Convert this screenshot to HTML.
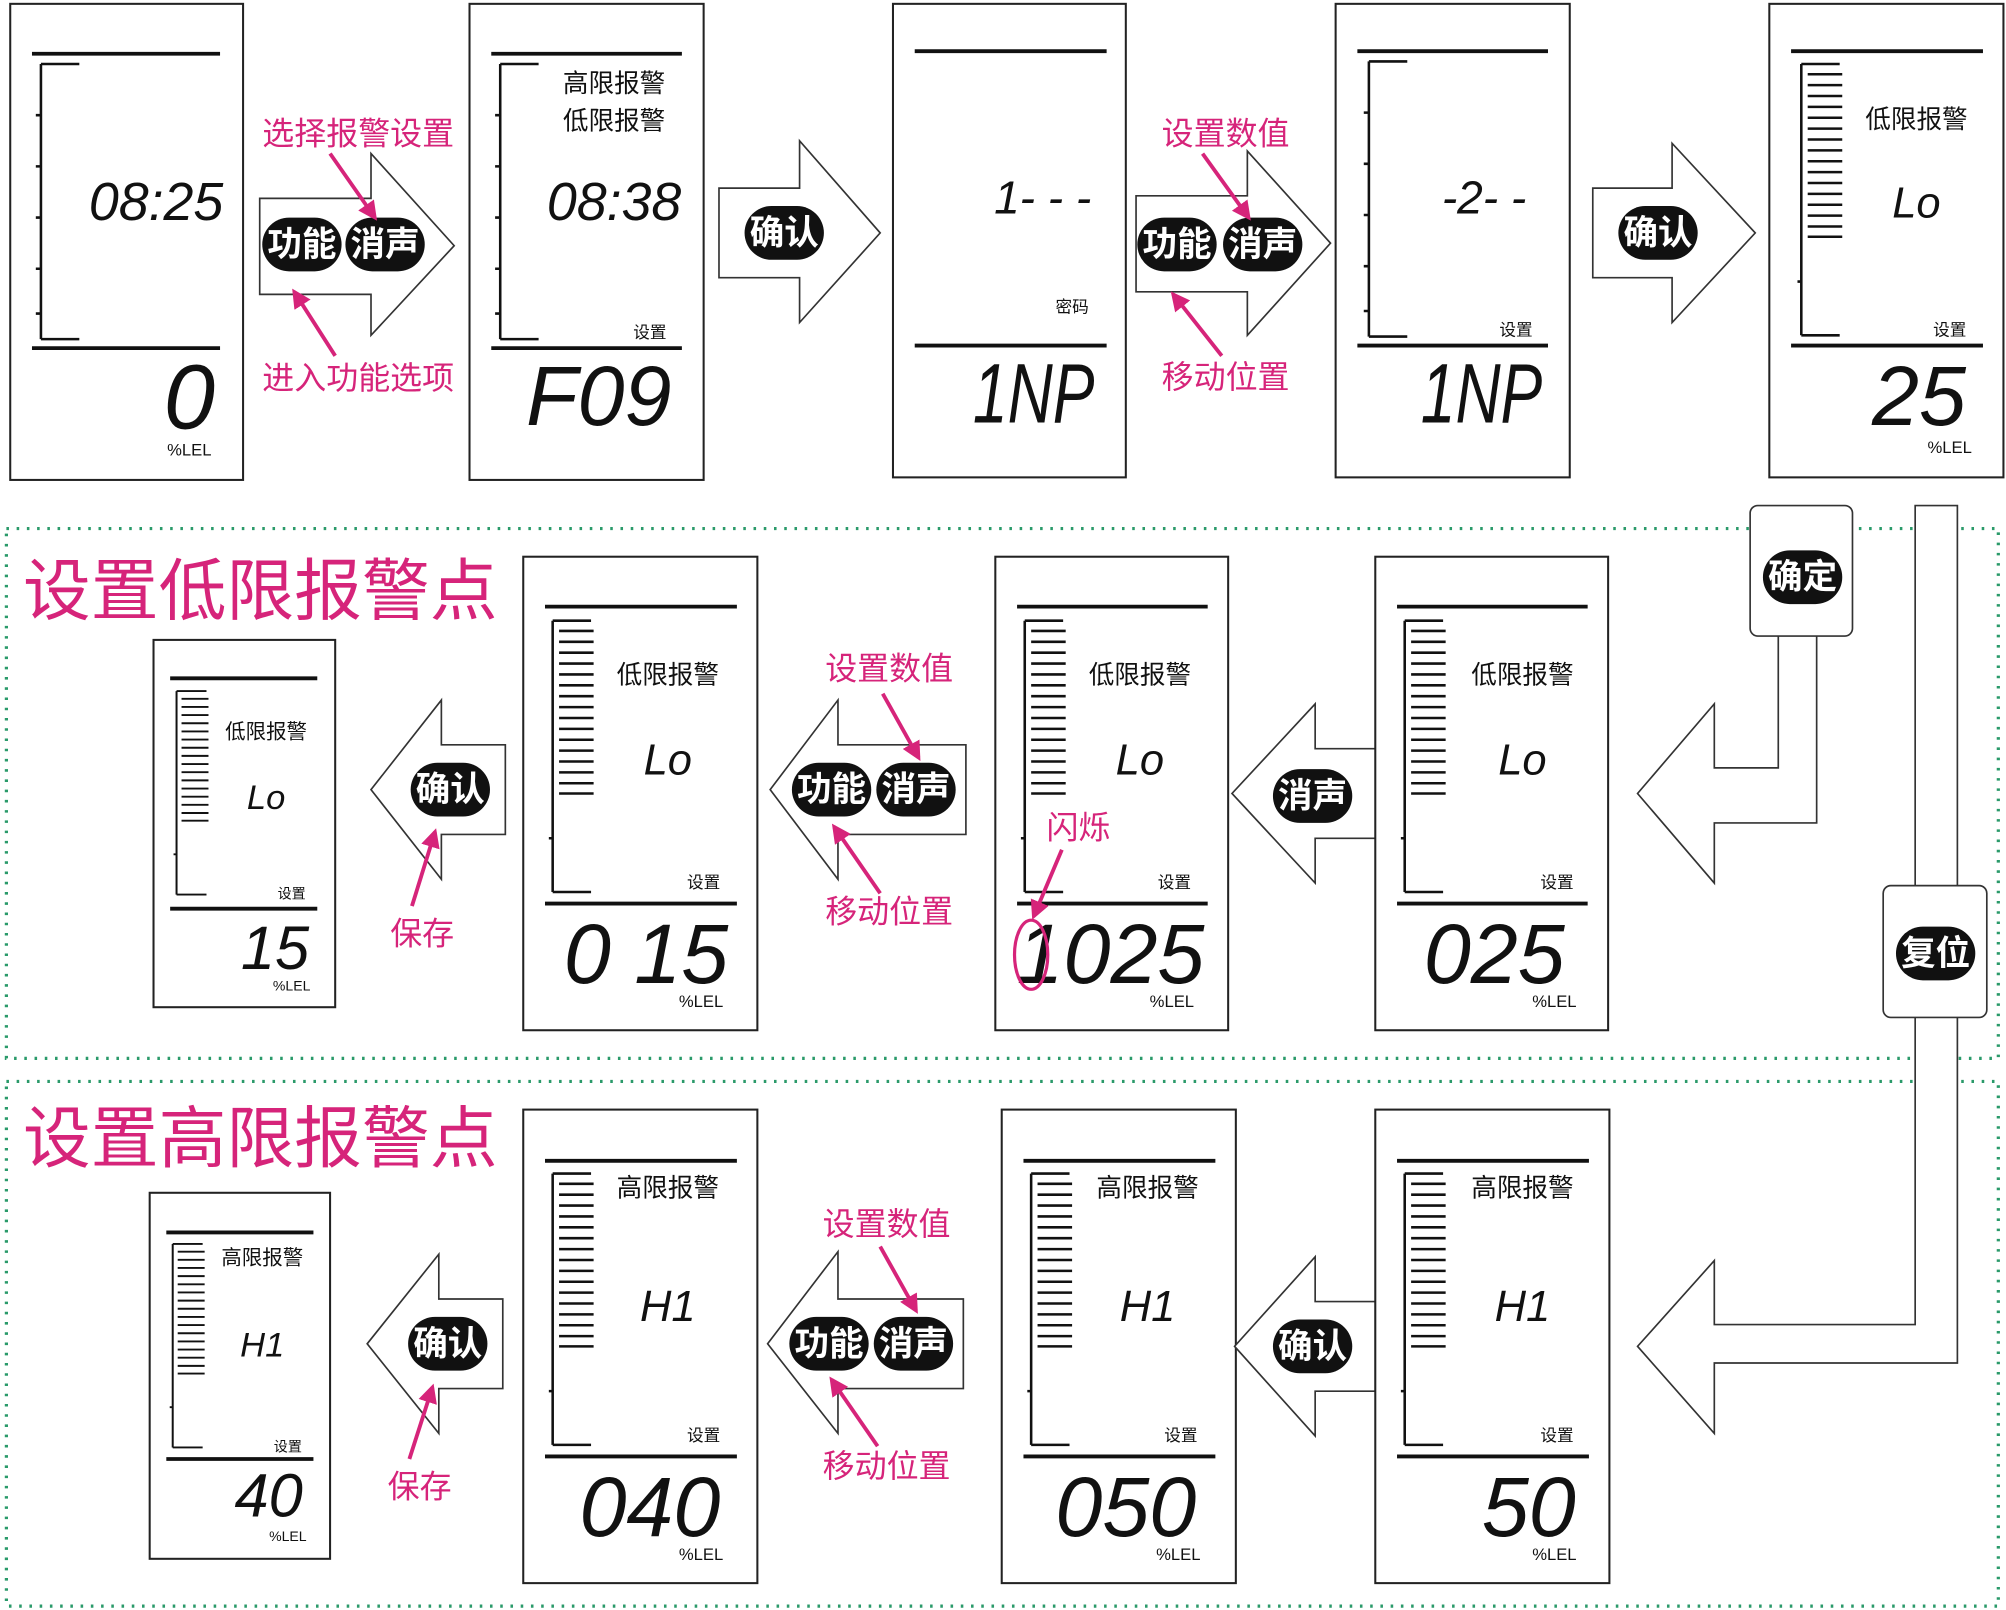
<!DOCTYPE html>
<html><head><meta charset="utf-8"><style>
html,body{margin:0;padding:0;background:#fff}
svg{display:block}
text{font-family:"Liberation Sans","Noto Sans CJK SC",sans-serif}
.cn{font-family:"Liberation Sans","Noto Sans CJK SC",sans-serif}
.pk{fill:#d6247a}
.lcd{font-family:"Liberation Sans",sans-serif;font-style:italic;fill:#111;text-anchor:middle}
.bx{fill:#fff;stroke:#222;stroke-width:1.6}
.ln{stroke:#111;stroke-width:3}
.ar{fill:#fff;stroke:#333;stroke-width:1.3}
.pill{fill:#111}
.pt{fill:#fff;font-size:27px;font-weight:bold;text-anchor:middle}
.lab{font-size:20px;fill:#111;text-anchor:middle}
.sm{font-size:13px;fill:#111;text-anchor:middle}
</style></head><body>
<svg width="2006" height="1610" viewBox="0 0 1568 1258" preserveAspectRatio="none" xmlns="http://www.w3.org/2000/svg">
<defs>
<marker id="mk" viewBox="0 0 10 10" refX="8" refY="5" markerWidth="5" markerHeight="5" orient="auto"><path d="M0,0 L10,5 L0,10 z" fill="#d6247a"/></marker>
<g id="scale">
<path d="M0,0 V212 M0,0 H30 M0,212 H30 M-3,170 H0" stroke="#111" stroke-width="2" fill="none"/>
<path d="M5,8H32M5,16.5H32M5,25H32M5,33.5H32M5,42H32M5,50.5H32M5,59H32M5,67.5H32M5,76H32M5,84.5H32M5,93H32M5,101.5H32M5,110H32M5,118.5H32M5,127H32M5,135H32" stroke="#111" stroke-width="2"/>
</g>
<g id="brk">
<path d="M0,0 V215 M0,0 H30 M0,215 H30 M-4,40H0M-4,80H0M-4,120H0M-4,160H0M-4,195H0" stroke="#111" stroke-width="2" fill="none"/>
</g>
</defs>

<!-- dotted frames -->
<rect x="5" y="413" width="1557" height="414" fill="none" stroke="#2a9a6a" stroke-width="2.5" stroke-dasharray="2,6"/>
<rect x="5" y="845" width="1557" height="410" fill="none" stroke="#2a9a6a" stroke-width="2.5" stroke-dasharray="2,6"/>

<!-- Row 1 -->
<rect class="bx" x="8" y="3" width="182" height="372"/>
<line class="ln" x1="25" y1="42" x2="172" y2="42"/>
<use href="#brk" x="32" y="50"/>
<text class="lcd" x="122" y="172" font-size="42">08:25</text>
<line class="ln" x1="25" y1="272" x2="172" y2="272"/>
<text class="lcd" x="148" y="335" font-size="72">0</text>
<text class="sm" x="148" y="356">%LEL</text>

<path class="ar" d="M203,155 H290 V120 L355,192 L290,262 V230 H203 Z"/>
<rect class="pill" x="205" y="170" width="62" height="42" rx="21"/>
<text class="pt cn" x="236" y="200">功能</text>
<rect class="pill" x="270" y="170" width="62" height="42" rx="21"/>
<text class="pt cn" x="301" y="200">消声</text>
<text class="pk cn" x="280" y="113" font-size="25" text-anchor="middle">选择报警设置</text>
<text class="pk cn" x="280" y="304" font-size="25" text-anchor="middle">进入功能选项</text>
<line x1="258" y1="120" x2="293" y2="170" stroke="#d6247a" stroke-width="3" marker-end="url(#mk)"/>
<line x1="262" y1="278" x2="230" y2="228" stroke="#d6247a" stroke-width="3" marker-end="url(#mk)"/>

<rect class="bx" x="367" y="3" width="183" height="372"/>
<line class="ln" x1="384" y1="42" x2="533" y2="42"/>
<use href="#brk" x="391" y="50"/>
<text class="lab cn" x="480" y="72">高限报警</text>
<text class="lab cn" x="480" y="101">低限报警</text>
<text class="lcd" x="480" y="172" font-size="42">08:38</text>
<text class="sm cn" x="508" y="264">设置</text>
<line class="ln" x1="384" y1="272" x2="533" y2="272"/>
<text class="lcd" x="468" y="332" font-size="66">F09</text>

<path class="ar" d="M562,147 H625 V110 L688,182 L625,252 V217 H562 Z"/>
<rect class="pill" x="582" y="161" width="62" height="42" rx="21"/>
<text class="pt cn" x="613" y="191">确认</text>

<rect class="bx" x="698" y="3" width="182" height="370"/>
<line class="ln" x1="715" y1="40" x2="865" y2="40"/>
<text class="lcd" x="815" y="167" font-size="36">1- - -</text>
<text class="sm cn" x="838" y="244">密码</text>
<line class="ln" x1="715" y1="270" x2="865" y2="270"/>
<text class="lcd" x="808" y="330" font-size="66" textLength="95" lengthAdjust="spacingAndGlyphs">1NP</text>

<path class="ar" d="M888,153 H975 V118 L1040,190 L975,262 V228 H888 Z"/>
<rect class="pill" x="889" y="170" width="62" height="42" rx="21"/>
<text class="pt cn" x="920" y="200">功能</text>
<rect class="pill" x="956" y="170" width="62" height="42" rx="21"/>
<text class="pt cn" x="987" y="200">消声</text>
<text class="pk cn" x="958" y="113" font-size="25" text-anchor="middle">设置数值</text>
<text class="pk cn" x="958" y="303" font-size="25" text-anchor="middle">移动位置</text>
<line x1="940" y1="120" x2="976" y2="170" stroke="#d6247a" stroke-width="3" marker-end="url(#mk)"/>
<line x1="955" y1="278" x2="917" y2="230" stroke="#d6247a" stroke-width="3" marker-end="url(#mk)"/>

<rect class="bx" x="1044" y="3" width="183" height="370"/>
<line class="ln" x1="1061" y1="40" x2="1210" y2="40"/>
<use href="#brk" x="1070" y="48"/>
<text class="lcd" x="1160" y="167" font-size="36">-2- -</text>
<text class="sm cn" x="1185" y="262">设置</text>
<line class="ln" x1="1061" y1="270" x2="1210" y2="270"/>
<text class="lcd" x="1158" y="330" font-size="66" textLength="95" lengthAdjust="spacingAndGlyphs">1NP</text>

<path class="ar" d="M1245,147 H1307 V112 L1372,182 L1307,252 V217 H1245 Z"/>
<rect class="pill" x="1265" y="161" width="62" height="42" rx="21"/>
<text class="pt cn" x="1296" y="191">确认</text>

<rect class="bx" x="1383" y="3" width="183" height="370"/>
<line class="ln" x1="1400" y1="40" x2="1550" y2="40"/>
<use href="#scale" x="1408" y="50"/>
<text class="lab cn" x="1498" y="100">低限报警</text>
<text class="lcd" x="1498" y="170" font-size="34">Lo</text>
<text class="sm cn" x="1524" y="262">设置</text>
<line class="ln" x1="1400" y1="270" x2="1550" y2="270"/>
<text class="lcd" x="1500" y="332" font-size="66">25</text>
<text class="sm" x="1524" y="354">%LEL</text>

<!-- connectors -->
<path class="ar" d="M1390,497 V600 H1340 V550 L1280,620 L1340,690 V643 H1420 V497"/>
<rect x="1368" y="395" width="80" height="102" rx="6" fill="#fff" stroke="#333" stroke-width="1.3"/>
<rect class="pill" x="1378" y="430" width="62" height="42" rx="21"/>
<text class="pt cn" x="1409" y="460">确定</text>

<path class="ar" d="M1497,692 V395 H1530 V692"/>
<path class="ar" d="M1530,795 V1065 H1340 V1120 L1280,1052 L1340,985 V1035 H1497 V795"/>
<rect x="1472" y="692" width="81" height="103" rx="6" fill="#fff" stroke="#333" stroke-width="1.3"/>
<rect class="pill" x="1482" y="724" width="62" height="42" rx="21"/>
<text class="pt cn" x="1513" y="754">复位</text>

<!-- Row 2 -->
<text class="pk cn" x="18" y="480" font-size="53">设置低限报警点</text>

<rect class="bx" x="120" y="500" width="142" height="287"/>
<line class="ln" x1="133" y1="530" x2="248" y2="530"/>
<use href="#scale" transform="translate(138,540) scale(0.78,0.75)"/>
<text class="cn" x="208" y="577" font-size="16" text-anchor="middle" fill="#111">低限报警</text>
<text class="lcd" x="208" y="632" font-size="27">Lo</text>
<text class="cn" x="228" y="702" font-size="11" text-anchor="middle" fill="#111">设置</text>
<line class="ln" x1="133" y1="710" x2="248" y2="710"/>
<text class="lcd" x="215" y="757" font-size="48">15</text>
<text class="cn" x="228" y="774" font-size="11" text-anchor="middle" fill="#111">%LEL</text>

<path class="ar" d="M395,582 H345 V547 L290,617 L345,687 V652 H395 Z"/>
<rect class="pill" x="321" y="596" width="62" height="42" rx="21"/>
<text class="pt cn" x="352" y="626">确认</text>
<text class="pk cn" x="330" y="738" font-size="25" text-anchor="middle">保存</text>
<line x1="322" y1="708" x2="340" y2="650" stroke="#d6247a" stroke-width="3" marker-end="url(#mk)"/>

<rect class="bx" x="409" y="435" width="183" height="370"/>
<line class="ln" x1="426" y1="474" x2="576" y2="474"/>
<use href="#scale" x="432" y="485"/>
<text class="lab cn" x="522" y="534">低限报警</text>
<text class="lcd" x="522" y="605" font-size="34">Lo</text>
<text class="sm cn" x="550" y="694">设置</text>
<line class="ln" x1="426" y1="706" x2="576" y2="706"/>
<text class="lcd" x="505" y="768" font-size="66">0 15</text>
<text class="sm" x="548" y="787">%LEL</text>

<path class="ar" d="M755,582 H655 V547 L602,617 L655,687 V652 H755 Z"/>
<rect class="pill" x="619" y="596" width="62" height="42" rx="21"/>
<text class="pt cn" x="650" y="626">功能</text>
<rect class="pill" x="685" y="596" width="62" height="42" rx="21"/>
<text class="pt cn" x="716" y="626">消声</text>
<text class="pk cn" x="695" y="531" font-size="25" text-anchor="middle">设置数值</text>
<text class="pk cn" x="695" y="721" font-size="25" text-anchor="middle">移动位置</text>
<line x1="690" y1="542" x2="718" y2="592" stroke="#d6247a" stroke-width="3" marker-end="url(#mk)"/>
<line x1="688" y1="698" x2="652" y2="646" stroke="#d6247a" stroke-width="3" marker-end="url(#mk)"/>

<rect class="bx" x="778" y="435" width="182" height="370"/>
<line class="ln" x1="795" y1="474" x2="944" y2="474"/>
<use href="#scale" x="801" y="485"/>
<text class="lab cn" x="891" y="534">低限报警</text>
<text class="lcd" x="891" y="605" font-size="34">Lo</text>
<text class="sm cn" x="918" y="694">设置</text>
<line class="ln" x1="795" y1="706" x2="944" y2="706"/>
<text class="lcd" x="868" y="768" font-size="66">1025</text>
<text class="sm" x="916" y="787">%LEL</text>
<ellipse cx="806" cy="746" rx="13" ry="27" fill="none" stroke="#d6247a" stroke-width="2.5"/>
<text class="pk cn" x="843" y="655" font-size="25" text-anchor="middle">闪烁</text>
<line x1="830" y1="664" x2="808" y2="716" stroke="#d6247a" stroke-width="3" marker-end="url(#mk)"/>

<path class="ar" d="M1088,585 H1028 V550 L963,620 L1028,690 V655 H1088 Z"/>
<rect class="pill" x="995" y="601" width="62" height="42" rx="21"/>
<text class="pt cn" x="1026" y="631">消声</text>

<rect class="bx" x="1075" y="435" width="182" height="370"/>
<line class="ln" x1="1092" y1="474" x2="1241" y2="474"/>
<use href="#scale" x="1098" y="485"/>
<text class="lab cn" x="1190" y="534">低限报警</text>
<text class="lcd" x="1190" y="605" font-size="34">Lo</text>
<text class="sm cn" x="1217" y="694">设置</text>
<line class="ln" x1="1092" y1="706" x2="1241" y2="706"/>
<text class="lcd" x="1168" y="768" font-size="66">025</text>
<text class="sm" x="1215" y="787">%LEL</text>

<!-- Row 3 -->
<text class="pk cn" x="18" y="908" font-size="53">设置高限报警点</text>

<rect class="bx" x="117" y="932" width="141" height="286"/>
<line class="ln" x1="130" y1="963" x2="245" y2="963"/>
<use href="#scale" transform="translate(135,972) scale(0.78,0.75)"/>
<text class="cn" x="205" y="988" font-size="16" text-anchor="middle" fill="#111">高限报警</text>
<text class="lcd" x="205" y="1060" font-size="27">H1</text>
<text class="cn" x="225" y="1134" font-size="11" text-anchor="middle" fill="#111">设置</text>
<line class="ln" x1="130" y1="1140" x2="245" y2="1140"/>
<text class="lcd" x="210" y="1185" font-size="48">40</text>
<text class="cn" x="225" y="1204" font-size="11" text-anchor="middle" fill="#111">%LEL</text>

<path class="ar" d="M393,1015 H343 V980 L287,1050 L343,1120 V1085 H393 Z"/>
<rect class="pill" x="319" y="1029" width="62" height="42" rx="21"/>
<text class="pt cn" x="350" y="1059">确认</text>
<text class="pk cn" x="328" y="1170" font-size="25" text-anchor="middle">保存</text>
<line x1="320" y1="1140" x2="338" y2="1084" stroke="#d6247a" stroke-width="3" marker-end="url(#mk)"/>

<rect class="bx" x="409" y="867" width="183" height="370"/>
<line class="ln" x1="426" y1="907" x2="576" y2="907"/>
<use href="#scale" x="432" y="917"/>
<text class="lab cn" x="522" y="935">高限报警</text>
<text class="lcd" x="522" y="1032" font-size="34">H1</text>
<text class="sm cn" x="550" y="1126">设置</text>
<line class="ln" x1="426" y1="1138" x2="576" y2="1138"/>
<text class="lcd" x="508" y="1200" font-size="66">040</text>
<text class="sm" x="548" y="1219">%LEL</text>

<path class="ar" d="M753,1015 H655 V978 L600,1050 L655,1120 V1085 H753 Z"/>
<rect class="pill" x="617" y="1029" width="62" height="42" rx="21"/>
<text class="pt cn" x="648" y="1059">功能</text>
<rect class="pill" x="683" y="1029" width="62" height="42" rx="21"/>
<text class="pt cn" x="714" y="1059">消声</text>
<text class="pk cn" x="693" y="965" font-size="25" text-anchor="middle">设置数值</text>
<text class="pk cn" x="693" y="1154" font-size="25" text-anchor="middle">移动位置</text>
<line x1="688" y1="974" x2="716" y2="1024" stroke="#d6247a" stroke-width="3" marker-end="url(#mk)"/>
<line x1="686" y1="1130" x2="650" y2="1078" stroke="#d6247a" stroke-width="3" marker-end="url(#mk)"/>

<rect class="bx" x="783" y="867" width="183" height="370"/>
<line class="ln" x1="800" y1="907" x2="950" y2="907"/>
<use href="#scale" x="806" y="917"/>
<text class="lab cn" x="897" y="935">高限报警</text>
<text class="lcd" x="897" y="1032" font-size="34">H1</text>
<text class="sm cn" x="923" y="1126">设置</text>
<line class="ln" x1="800" y1="1138" x2="950" y2="1138"/>
<text class="lcd" x="880" y="1200" font-size="66">050</text>
<text class="sm" x="921" y="1219">%LEL</text>

<path class="ar" d="M1075,1017 H1028 V982 L965,1052 L1028,1122 V1087 H1075 Z"/>
<rect class="pill" x="995" y="1031" width="62" height="42" rx="21"/>
<text class="pt cn" x="1026" y="1061">确认</text>

<rect class="bx" x="1075" y="867" width="183" height="370"/>
<line class="ln" x1="1092" y1="907" x2="1242" y2="907"/>
<use href="#scale" x="1098" y="917"/>
<text class="lab cn" x="1190" y="935">高限报警</text>
<text class="lcd" x="1190" y="1032" font-size="34">H1</text>
<text class="sm cn" x="1217" y="1126">设置</text>
<line class="ln" x1="1092" y1="1138" x2="1242" y2="1138"/>
<text class="lcd" x="1195" y="1200" font-size="66">50</text>
<text class="sm" x="1215" y="1219">%LEL</text>
</svg>
</body></html>
